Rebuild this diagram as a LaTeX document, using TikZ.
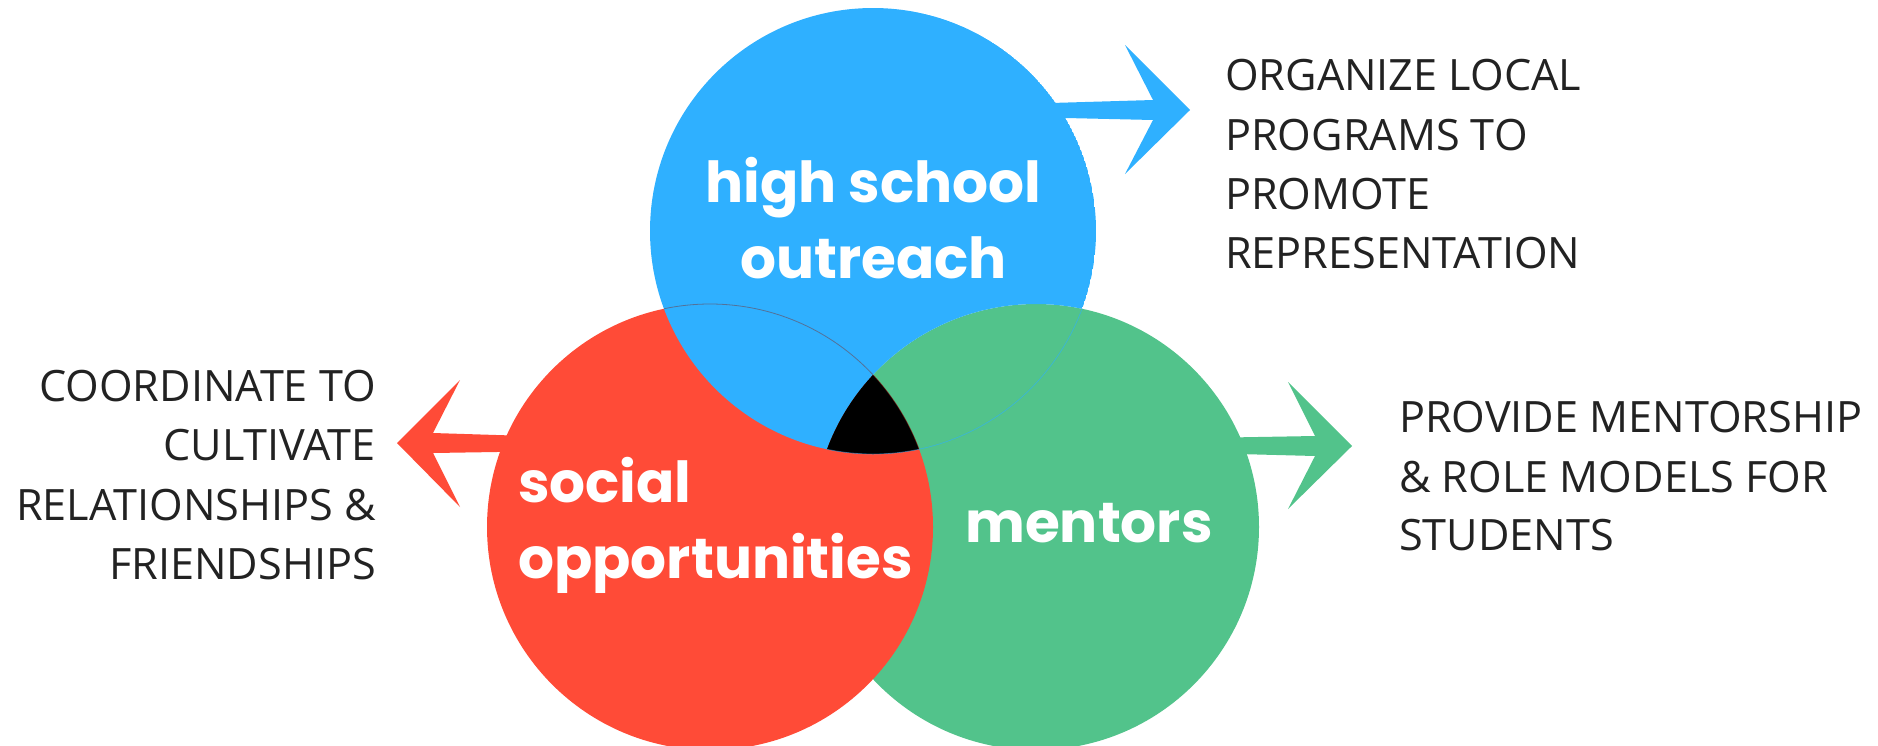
\documentclass[tikz,border=0pt]{standalone}
\usepackage{fontspec}
\setmainfont{Open Sans}
\newfontfamily\lblfont{Poppins}
\definecolor{cblue}{RGB}{47,176,255}
\definecolor{cred}{RGB}{255,75,55}
\definecolor{cgreen}{RGB}{82,195,139}
\definecolor{ctext}{RGB}{34,34,34}
\begin{document}
\begin{tikzpicture}[x=1pt,y=-1pt,
  side/.style={text=ctext, font=\fontsize{43.2}{50}\selectfont, inner sep=0pt},
  lbl/.style={text=white, font=\lblfont\bfseries\fontsize{56.5}{70}\selectfont, inner sep=0pt},
  faint/.style={line width=0.8pt, opacity=0.45}]
\useasboundingbox (0,0) rectangle (1878,745);
\coordinate (B) at (873,231);
\coordinate (R) at (710,527);
\coordinate (G) at (1036,527);
\def\rad{223pt}
% arrows
\fill[cblue] (1000,104.5) -- (1153,100) -- (1125,45) -- (1190,110) -- (1125,174) -- (1153,120) -- (1000,116.5) -- cycle;
\fill[cred] (560,437) -- (433,433) -- (460,380) -- (397,443) -- (460,507) -- (433,453) -- (560,451) -- cycle;
\fill[cgreen] (1200,438) -- (1315,436) -- (1288,382) -- (1352,446) -- (1288,509) -- (1315,456) -- (1200,453) -- cycle;
% circles
\fill[cgreen] (G) circle (\rad);
\fill[cred] (R) circle (\rad);
\begin{scope}
  \clip (B) circle (\rad);
  \fill[cblue, even odd rule] (B) circle (\rad) (G) circle (\rad);
\end{scope}
\begin{scope}\clip (R) circle (\rad); \clip (G) circle (\rad); \fill[black] (B) circle (\rad); \end{scope}
\begin{scope}\clip (B) circle (\rad); \draw[faint, cred!50!black] (R) circle (\rad); \end{scope}
\begin{scope}\clip (G) circle (\rad); \draw[faint, cblue] (B) circle (\rad); \end{scope}
% circle labels
\node[lbl, anchor=base] (hs) at (873.5,202) {high school};
\node[lbl, anchor=base] (or) at (873.5,278) {outreach};
\node[lbl, anchor=base west] (so) at (518,502) {social};
\node[lbl, anchor=base west] (op) at (518,578) {opportunities};
\node[lbl, anchor=base] (me) at (1089,542) {mentors};
% side texts
\node[side, anchor=base west] (t1) at (1225,90) {ORGANIZE LOCAL};
\node[side, anchor=base west] (t2) at (1225,150) {PROGRAMS TO};
\node[side, anchor=base west] (t3) at (1225,209) {PROMOTE};
\node[side, anchor=base west] (t4) at (1225,268) {REPRESENTATION};
\node[side, anchor=base east] (l1) at (376,401) {COORDINATE TO};
\node[side, anchor=base east] (l2) at (376,460) {CULTIVATE};
\node[side, anchor=base east] (l3) at (376,520) {RELATIONSHIPS \&};
\node[side, anchor=base east] (l4) at (376,579) {FRIENDSHIPS};
\node[side, anchor=base west] (r1) at (1399,432) {PROVIDE MENTORSHIP};
\node[side, anchor=base west] (r2) at (1399,492) {\& ROLE MODELS FOR};
\node[side, anchor=base west] (r3) at (1399,550) {STUDENTS};
\end{tikzpicture}
\end{document}
